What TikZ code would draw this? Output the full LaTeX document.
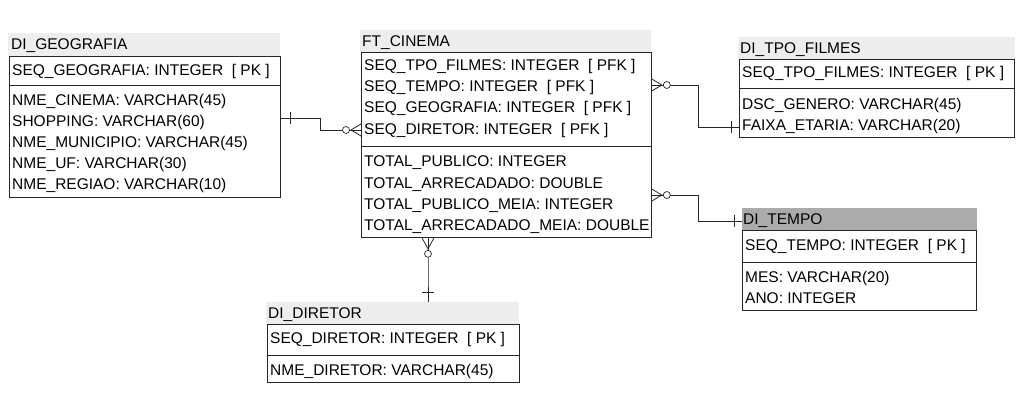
\documentclass[tikz,border=0pt]{standalone}
\usepackage{fontspec}
\setmainfont{Liberation Sans}
\usetikzlibrary{calc}
\newcommand\erfont{\fontsize{15.5}{21}\selectfont}
\begin{document}
\begin{tikzpicture}[x=1pt,y=-1pt,
  tbox/.style={draw=black!85, line width=0.8pt, anchor=north west, inner sep=0pt, fill=white},
  ttl/.style={fill=black!7, anchor=north west, inner sep=0pt, draw=none},
  ttldark/.style={fill=black!33, anchor=north west, inner sep=0pt, draw=none},
  txt/.style={anchor=base west, inner sep=0pt, font=\erfont},
  div/.style={line width=0.8pt, draw=black!85},
  lnk/.style={line width=0.8pt, draw=black!85},
  ring/.style={line width=0.7pt, draw=black!85, fill=white},
]
\useasboundingbox (0,0) rectangle (1023,402);

% ---------- DI_GEOGRAFIA ----------
\node[ttl, minimum width=272pt, minimum height=23pt] (geoT) at (8,33) {};
\node[tbox, minimum width=271pt, minimum height=141pt] (geo) at (9,56) {};
\draw[div] (9,85) -- (280,85);
\node[txt] at (11,49.5) {DI\_GEOGRAFIA};
\node[txt] at (12,75.5) {SEQ\_GEOGRAFIA: INTEGER\ \ [ PK ]};
\node[txt] at (12,105.5) {NME\_CINEMA: VARCHAR(45)};
\node[txt] at (12,126.5) {SHOPPING: VARCHAR(60)};
\node[txt] at (12,147.5) {NME\_MUNICIPIO: VARCHAR(45)};
\node[txt] at (12,168.5) {NME\_UF: VARCHAR(30)};
\node[txt] at (12,189.5) {NME\_REGIAO: VARCHAR(10)};

% ---------- FT_CINEMA ----------
\node[ttl, minimum width=291pt, minimum height=22pt] (cinT) at (360,30) {};
\node[tbox, minimum width=290pt, minimum height=185pt] (cin) at (361,52) {};
\draw[div] (361,146) -- (651,146);
\node[txt] at (362,46.5) {FT\_CINEMA};
\node[txt] at (364,70.5) {SEQ\_TPO\_FILMES: INTEGER\ \ [ PFK ]};
\node[txt] at (364,91.5) {SEQ\_TEMPO: INTEGER\ \ [ PFK ]};
\node[txt] at (364,112.5) {SEQ\_GEOGRAFIA: INTEGER\ \ [ PFK ]};
\node[txt] at (364,134.5) {SEQ\_DIRETOR: INTEGER\ \ [ PFK ]};
\node[txt] at (364,166.5) {TOTAL\_PUBLICO: INTEGER};
\node[txt] at (364,188.5) {TOTAL\_ARRECADADO: DOUBLE};
\node[txt] at (364,209.5) {TOTAL\_PUBLICO\_MEIA: INTEGER};
\node[txt] at (364,230.5) {TOTAL\_ARRECADADO\_MEIA: DOUBLE};

% ---------- DI_TPO_FILMES ----------
\node[ttl, minimum width=277pt, minimum height=22pt] (tpoT) at (738,37) {};
\node[tbox, minimum width=275pt, minimum height=78pt] (tpo) at (739,59) {};
\draw[div] (739,88) -- (1014,88);
\node[txt] at (740,53) {DI\_TPO\_FILMES};
\node[txt] at (742,77.5) {SEQ\_TPO\_FILMES: INTEGER\ \ [ PK ]};
\node[txt] at (742,109.5) {DSC\_GENERO: VARCHAR(45)};
\node[txt] at (742,130.5) {FAIXA\_ETARIA: VARCHAR(20)};

% ---------- DI_TEMPO ----------
\node[ttldark, minimum width=235pt, minimum height=22pt] (tmpT) at (742,208) {};
\node[tbox, minimum width=234pt, minimum height=80pt] (tmp) at (742,230) {};
\draw[div] (742,262) -- (976,262);
\node[txt] at (743,224.5) {DI\_TEMPO};
\node[txt] at (745,250.5) {SEQ\_TEMPO: INTEGER\ \ [ PK ]};
\node[txt] at (745,282.5) {MES: VARCHAR(20)};
\node[txt] at (745,303.5) {ANO: INTEGER};

% ---------- DI_DIRETOR ----------
\node[ttl, minimum width=253pt, minimum height=22pt] (dirT) at (266,302) {};
\node[tbox, minimum width=252pt, minimum height=58pt] (dir) at (267,324) {};
\draw[div] (267,355) -- (519,355);
\node[txt] at (268,318.5) {DI\_DIRETOR};
\node[txt] at (270,343.5) {SEQ\_DIRETOR: INTEGER\ \ [ PK ]};
\node[txt] at (270,375.5) {NME\_DIRETOR: VARCHAR(45)};

% ---------- connectors ----------
% geo -- cin
\coordinate (g1) at ($(geo.north east)+(0,62)$);
\coordinate (c1) at ($(cin.north west)+(0,78)$);
\draw[lnk] (g1) -- ++(40,0) |- (c1);
\draw[lnk] ($(g1)+(10,-6)$) -- ++(0,12);
\draw[lnk] ($(c1)+(0,-6)$) -- ($(c1)+(-10,0)$) -- ($(c1)+(0,6)$);
\draw[ring] ($(c1)+(-15,0)$) circle (3.5);

% cin -- tpo
\coordinate (c2) at ($(cin.north east)+(0,33)$);
\coordinate (t2) at ($(tpo.north west)+(0,68)$);
\draw[lnk] (c2) -- ++(47,0) |- (t2);
\draw[lnk] ($(c2)+(0,-6)$) -- ($(c2)+(10,0)$) -- ($(c2)+(0,6)$);
\draw[ring] ($(c2)+(15,0)$) circle (3.5);
\draw[lnk] ($(t2)+(-8,-6)$) -- ++(0,12);

% cin -- tempo
\coordinate (c3) at ($(cin.north east)+(0,143)$);
\coordinate (t3) at ($(tmp.north west)+(0,-9)$);
\draw[lnk] (c3) -- ++(47,0) |- (t3);
\draw[lnk] ($(c3)+(0,-6)$) -- ($(c3)+(10,0)$) -- ($(c3)+(0,6)$);
\draw[ring] ($(c3)+(15,0)$) circle (3.5);
\draw[lnk] ($(t3)+(-8,-6)$) -- ++(0,12);

% cin -- diretor
\coordinate (c4) at ($(cin.south west)+(67,0)$);
\coordinate (d4) at ($(dirT.north west)+(162,0)$);
\draw[lnk] (c4) -- (c4 |- 0,268) -- ($(d4 |- 0,272)$) -- (d4);
\draw[lnk] ($(c4)+(-6,0)$) -- ($(c4)+(0,11)$) -- ($(c4)+(6,0)$);
\draw[ring] ($(c4)+(0,16)$) circle (3.5);
\draw[lnk] ($(d4)+(-6,-10)$) -- ++(12,0);
\end{tikzpicture}
\end{document}
